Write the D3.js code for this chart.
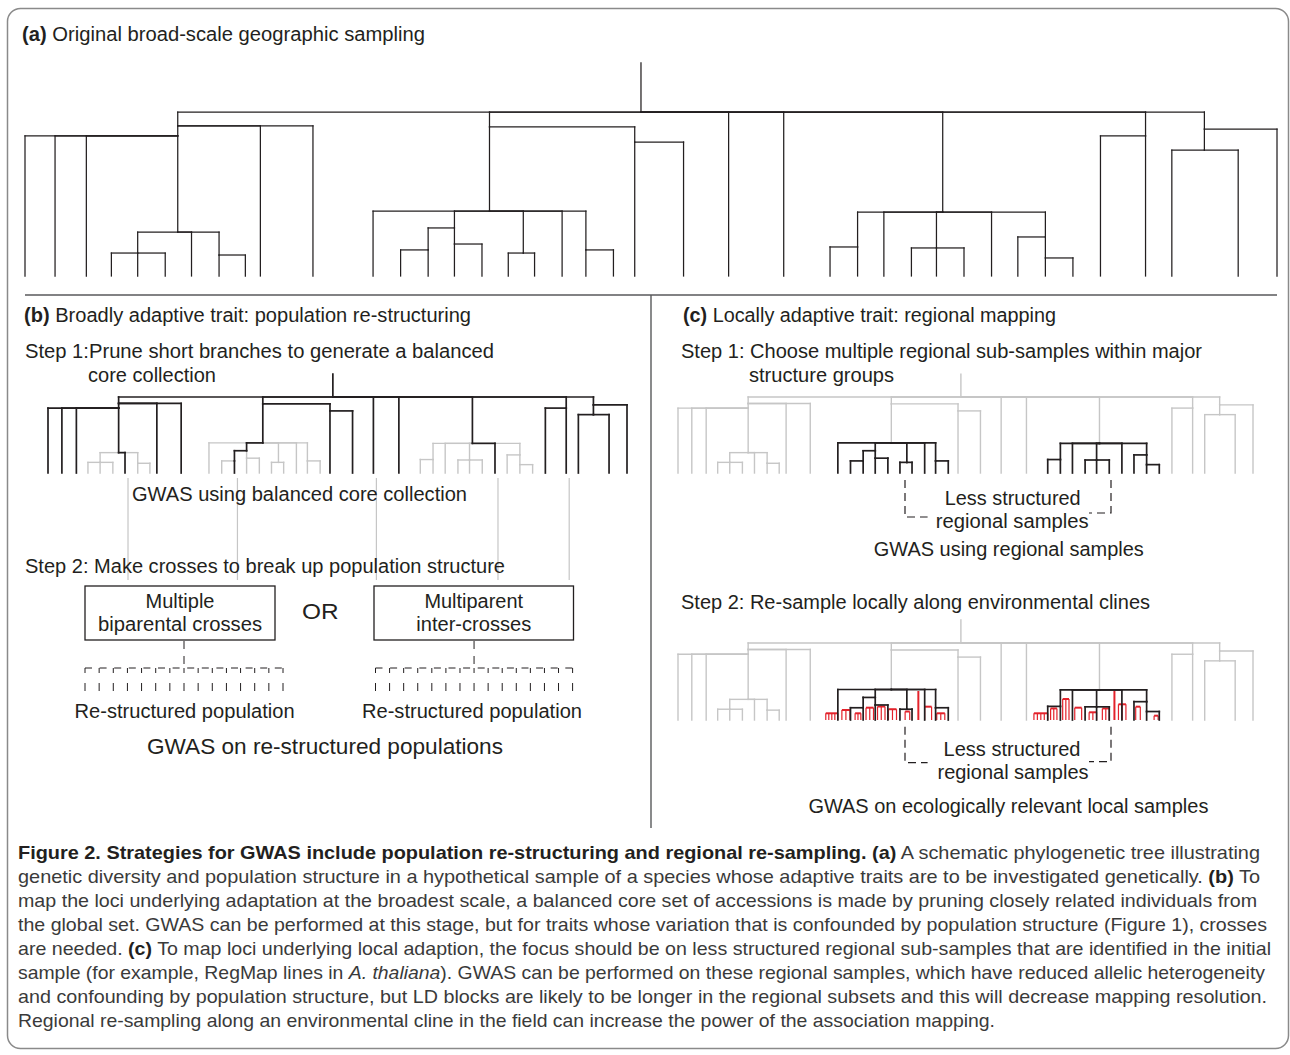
<!DOCTYPE html>
<html>
<head>
<meta charset="utf-8">
<script src="https://cdnjs.cloudflare.com/ajax/libs/d3/7.8.5/d3.min.js"></script>
<style>
  body { margin: 0; background: #fff; }
  svg text { font-family: "Liberation Sans", Arial, Helvetica, sans-serif; fill: #231f20; white-space: pre; }
</style>
</head>
<body>
<svg id="fig" width="1290" height="1055"></svg>
<script>
// one schematic tree, reused by every panel
// clades: id, parent, position along the leaf axis (0-100), depth (0 = root bar, 100 = tips)
const clades = [
  ["root", "", 49.2, 0],
  ["A", "root", 12.2, 8.5],
  ["A2", "A", 12.2, 14.6],
  ["A3", "A2", 12.2, 73.2],
  ["B", "A3", 9.0, 86],
  ["C", "A3", 15.5, 87.2],
  ["D", "root", 37.1, 9.1],
  ["D2", "D", 37.1, 60.4],
  ["F", "D2", 34.3, 70.7],
  ["G", "F", 32.2, 84.1],
  ["H", "F", 34.3, 80.5],
  ["I", "D2", 39.8, 86],
  ["J", "D2", 44.8, 84.1],
  ["E", "D", 48.7, 18.3],
  ["P", "root", 73.3, 61],
  ["K", "P", 66.5, 82.3],
  ["L", "P", 72.8, 82.9],
  ["M", "P", 81.5, 76.2],
  ["N", "M", 81.5, 89],
  ["Q", "root", 89.5, 14.6],
  ["R", "root", 94.2, 10.4],
  ["S", "R", 94.2, 23.2]
];

// tips: parent clade, position
const leaves = [
  ["A2", 0], ["A2", 2.4], ["A2", 4.9],
  ["B", 6.9], ["B", 9.0], ["B", 11.2],
  ["A3", 13.3],
  ["C", 15.5], ["C", 17.6],
  ["A", 18.8], ["A", 23.0],
  ["D2", 27.8], ["G", 30.0], ["G", 32.2], ["H", 34.3], ["H", 36.5],
  ["I", 38.6], ["I", 40.7], ["D2", 42.9], ["J", 44.8], ["J", 47.0],
  ["E", 48.7], ["E", 52.6],
  ["root", 56.2], ["root", 60.6],
  ["K", 64.3], ["K", 66.5], ["P", 68.6], ["L", 70.8], ["L", 72.8], ["L", 75.0],
  ["P", 77.2], ["M", 79.3], ["N", 81.5], ["N", 83.7],
  ["Q", 85.9], ["Q", 89.5], ["S", 91.6], ["S", 96.9], ["R", 100]
];

// (b) short branches pruned away from the core collection
const prunedClades = ["B", "C", "H", "I", "J", "K", "L", "M", "D2.0", "D2.1", "G.0", "P.0"];
// (b) core accessions used as parents of crosses
const crossParents = ["A3.0", "G.1", "root.0", "P.1", "Q.1"];
// (c) regional sub-samples
const regionalGroups = ["D2", "P"];
// (c) step 2 local re-samples: from, to, depth, number of samples
const localSamples = [
  [25.7, 27.8, 91.3, 5], [28.5, 29.9, 87, 3], [30.8, 31.8, 91.3, 3],
  [32.7, 34.0, 84, 3], [34.7, 36.0, 82.5, 3], [36.6, 38.0, 86, 3],
  [39.5, 40.3, 89, 2], [41.8, 41.8, 62.3, 1], [42.9, 44.1, 82.7, 2],
  [45.0, 46.4, 91.3, 3],
  [61.9, 64.3, 91.3, 5], [64.8, 65.9, 85, 3], [66.9, 68.0, 72.7, 3],
  [69.0, 70.2, 84, 2], [71.5, 72.8, 90, 3], [73.8, 75.0, 85, 3],
  [75.9, 75.9, 62.3, 1], [76.6, 77.9, 79.6, 3], [79.6, 80.4, 82.7, 2],
  [82.8, 83.5, 94.4, 2]
];
// progeny drawn under each cross design
const offspring = d3.range(15);
const crossDesigns = [["Multiple", "biparental crosses"], ["Multiparent", "inter-crosses"]];

const captionLines = [
  [["Figure 2. Strategies for GWAS include population re-structuring and regional re-sampling. (a)", "b"], [" A schematic phylogenetic tree illustrating"]],
  [["genetic diversity and population structure in a hypothetical sample of a species whose adaptive traits are to be investigated genetically. "], ["(b)", "b"], [" To"]],
  [["map the loci underlying adaptation at the broadest scale, a balanced core set of accessions is made by pruning closely related individuals from"]],
  [["the global set. GWAS can be performed at this stage, but for traits whose variation that is confounded by population structure (Figure 1), crosses"]],
  [["are needed. "], ["(c)", "b"], [" To map loci underlying local adaption, the focus should be on less structured regional sub-samples that are identified in the initial"]],
  [["sample (for example, RegMap lines in "], ["A. thaliana", "i"], ["). GWAS can be performed on these regional samples, which have reduced allelic heterogeneity"]],
  [["and confounding by population structure, but LD blocks are likely to be longer in the regional subsets and this will decrease mapping resolution."]],
  [["Regional re-sampling along an environmental cline in the field can increase the power of the association mapping."]]
];

// ---------- build hierarchy ----------
const rows = clades.map(([id, parent, pos, depth]) => ({id, parent, pos, depth}));
const seen = {};
leaves.forEach(([parent, pos]) => {
  const k = seen[parent] || 0;
  seen[parent] = k + 1;
  rows.push({id: parent + "." + k, parent, pos, depth: 100});
});
const tree = d3.stratify().id(d => d.id).parentId(d => d.parent || null)(rows);
const stemTop = -30;

const ink = "#231f20", pale = "#c6c6c6", red = "#e3222b";
const svg = d3.select("#fig");

function drawTree(g, x, y, style, between) {
  const segs = [];
  segs.push([x(tree.data.pos), y(stemTop), x(tree.data.pos), y(0), style(tree)]);
  tree.descendants().slice(1).forEach(n => {
    const p = n.parent, s = style(n);
    if (n.data.pos !== p.data.pos) segs.push([x(p.data.pos), y(p.data.depth), x(n.data.pos), y(p.data.depth), s]);
    segs.push([x(n.data.pos), y(p.data.depth), x(n.data.pos), y(n.data.depth), s]);
  });
  const put = list => g.append("g").selectAll("line").data(list).join("line")
    .attr("x1", d => d[0]).attr("y1", d => d[1]).attr("x2", d => d[2]).attr("y2", d => d[3])
    .attr("stroke", d => d[4].color).attr("stroke-width", d => d[4].width)
    .attr("stroke-linecap", "square");
  put(segs.filter(s => s[4].under));
  if (between) between(g);
  put(segs.filter(s => !s[4].under));
}

const solid = {color: ink, width: 1.25};
const kept = {color: ink, width: 1.7};
const faded = {color: pale, width: 1.4, under: true};
const isPruned = n => n.ancestors().some(a => prunedClades.includes(a.id));
const isRegional = n => n.ancestors().slice(1).some(a => regionalGroups.includes(a.id));

function label(g, parts, x, y, size, anchor, len) {
  const t = g.append("text").attr("x", x).attr("y", y)
    .attr("font-size", size).attr("text-anchor", anchor);
  if (len) t.attr("textLength", len).attr("lengthAdjust", "spacingAndGlyphs");
  (typeof parts === "string" ? [[parts]] : parts).forEach(([s, st]) => {
    const ts = t.append("tspan").text(s);
    if (st === "b") ts.attr("font-weight", "bold");
    if (st === "i") ts.attr("font-style", "italic");
  });
  return t;
}

// ---------- frame ----------
svg.append("rect").attr("x", 7.5).attr("y", 8.5).attr("width", 1281).attr("height", 1040)
  .attr("rx", 13).attr("fill", "none").attr("stroke", "#8a8a8a").attr("stroke-width", 1.5);
svg.append("line").attr("x1", 25).attr("x2", 1277).attr("y1", 295).attr("y2", 295)
  .attr("stroke", "#58595b").attr("stroke-width", 1.6);
svg.append("line").attr("x1", 651).attr("x2", 651).attr("y1", 295).attr("y2", 828)
  .attr("stroke", "#58595b").attr("stroke-width", 1.4);

const T = 19.5;

// ---------- (a) ----------
const gA = svg.append("g");
label(gA, [["(a)", "b"], [" Original broad-scale geographic sampling"]], 22, 41, T, "start", 403);
drawTree(gA, d3.scaleLinear([0, 100], [25, 1277]), d3.scaleLinear([0, 100], [112, 276]), () => solid);

// ---------- (b) ----------
const gB = svg.append("g");
const xB = d3.scaleLinear([0, 100], [48, 627]);
const yB = d3.scaleLinear([0, 100], [397, 473]);
label(gB, [["(b)", "b"], [" Broadly adaptive trait: population re-structuring"]], 24, 322, T, "start", 447);
label(gB, "Step 1:Prune short branches to generate a balanced", 25, 358, T, "start", 469);
label(gB, "core collection", 88, 382, T, "start", 128);

const leafPos = id => tree.find(n => n.id === id).data.pos;
gB.append("g").selectAll("line").data(crossParents).join("line")
  .attr("x1", d => xB(leafPos(d)) + 3).attr("x2", d => xB(leafPos(d)) + 3)
  .attr("y1", 478).attr("y2", 580).attr("stroke", pale).attr("stroke-width", 1.2);

drawTree(gB, xB, yB, n => isPruned(n) ? faded : kept);
label(gB, "GWAS using balanced core collection", 132, 501, T, "start", 335);
label(gB, "Step 2: Make crosses to break up population structure", 25, 573, T, "start", 480);

const boxX = [[85, 275], [374, 573.5]];
const combX = [[85, 283], [375.5, 572.6]];
crossDesigns.forEach((lines, i) => {
  const [b0, b1] = boxX[i];
  const cx = (b0 + b1) / 2;
  gB.append("rect").attr("x", b0).attr("y", 586).attr("width", b1 - b0).attr("height", 54)
    .attr("fill", "none").attr("stroke", ink).attr("stroke-width", 1.3);
  label(gB, lines[0], cx, 608, T, "middle", i ? 98.6 : 69);
  label(gB, lines[1], cx, 631, T, "middle", i ? 115 : 164);
  const px = d3.scalePoint(offspring, combX[i]);
  const mid = px(offspring[7]);
  gB.append("line").attr("x1", mid).attr("x2", mid).attr("y1", 641).attr("y2", 665)
    .attr("stroke", ink).attr("stroke-width", 1).attr("stroke-dasharray", "8,7");
  gB.append("line").attr("x1", combX[i][0]).attr("x2", combX[i][1]).attr("y1", 668).attr("y2", 668)
    .attr("stroke", ink).attr("stroke-width", 1).attr("stroke-dasharray", "7,7.6");
  gB.append("g").selectAll("line").data(offspring).join("line")
    .attr("x1", d => px(d)).attr("x2", d => px(d)).attr("y1", 668).attr("y2", 691)
    .attr("stroke", ink).attr("stroke-width", 1).attr("stroke-dasharray", "5,10,8");
  label(gB, "Re-structured population", i ? 472 : 184.6, 718, T, "middle", 220);
});
label(gB, "OR", 320.3, 619, 22, "middle", 36.6);
label(gB, "GWAS on re-structured populations", 325, 754, 21.5, "middle", 356);

// ---------- (c) ----------
const gC = svg.append("g");
const xC = d3.scaleLinear([0, 100], [678, 1253]);
label(gC, [["(c)", "b"], [" Locally adaptive trait: regional mapping"]], 683, 322, T, "start", 373);
label(gC, "Step 1: Choose multiple regional sub-samples within major", 681, 358, T, "start", 521);
label(gC, "structure groups", 749, 382, T, "start", 145);
drawTree(gC, xC, d3.scaleLinear([0, 100], [397, 473]), n => isRegional(n) ? kept : faded);

function bracket(top, bl, br) {
  const d = `M905,${top}V${bl}H927.6 M1111,${top}V${br}H1089`;
  gC.append("path").attr("d", d).attr("fill", "none").attr("stroke", ink)
    .attr("stroke-width", 1.2).attr("stroke-dasharray", "8,5");
}
bracket(480, 517, 513);
label(gC, "Less structured", 1012.7, 505, T, "middle", 136);
label(gC, "regional samples", 1012.2, 528, T, "middle", 153);
label(gC, "GWAS using regional samples", 1008.8, 556, T, "middle", 270);

label(gC, "Step 2: Re-sample locally along environmental clines", 681, 609, T, "start", 469);
const yC2 = d3.scaleLinear([0, 100], [643, 720]);
drawTree(gC, xC, yC2, n => isRegional(n) ? kept : faded, g => {
  const gr = g.append("g");
  localSamples.forEach(([a, b, depth, n]) => {
    const xs = n === 1 ? [a] : d3.range(n).map(i => a + (b - a) * i / (n - 1));
    if (n > 1) gr.append("line").attr("x1", xC(a)).attr("x2", xC(b))
      .attr("y1", yC2(depth)).attr("y2", yC2(depth))
      .attr("stroke", red).attr("stroke-width", 2);
    gr.selectAll(null).data(xs).join("line")
      .attr("x1", d => xC(d)).attr("x2", d => xC(d))
      .attr("y1", yC2(depth)).attr("y2", yC2(100))
      .attr("stroke", red).attr("stroke-width", n === 1 ? 2 : 1.2);
  });
});
bracket(726.7, 762.7, 761.7);
label(gC, "Less structured", 1012, 756, T, "middle", 137);
label(gC, "regional samples", 1013, 779, T, "middle", 151);
label(gC, "GWAS on ecologically relevant local samples", 1008.4, 813, T, "middle", 400);

// ---------- caption ----------
const captionWidths = [1242, 1242, 1239, 1249, 1253, 1247, 1249, 977];
const gCap = svg.append("g");
captionLines.forEach((parts, i) => {
  const t = label(gCap, parts, 18, 859 + 24 * i, 19, "start", captionWidths[i]);
  t.selectAll("tspan").filter(function () { return d3.select(this).attr("font-weight") !== "bold"; })
    .style("fill", "#3a3a3a");
});
</script>
</body>
</html>
